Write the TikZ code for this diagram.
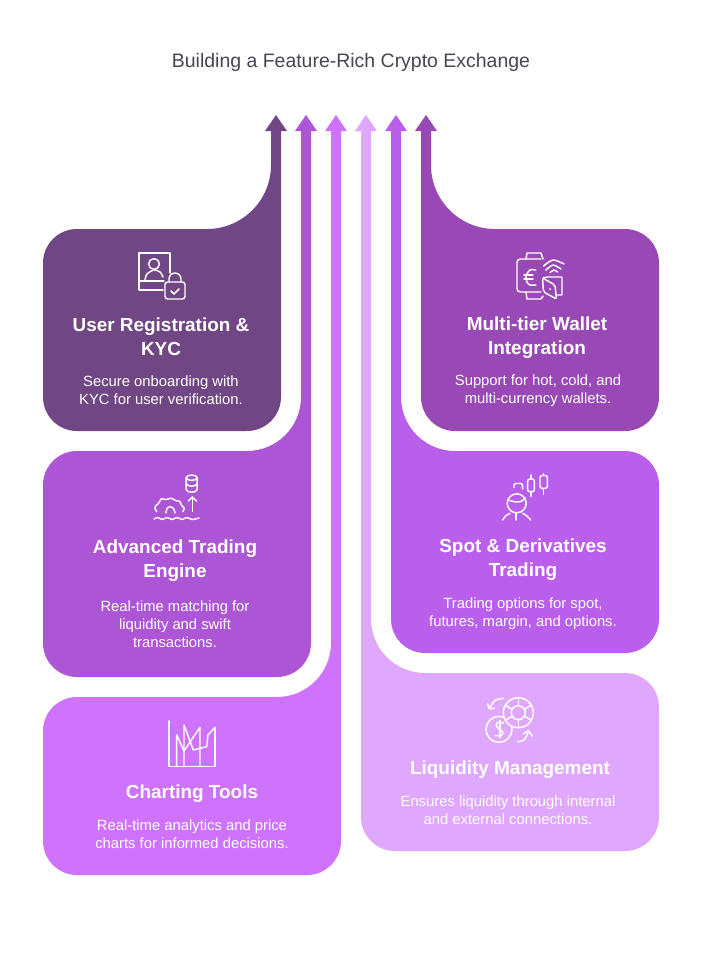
\documentclass[tikz,border=0pt]{standalone}
\usepackage{fontspec}
\setmainfont{Liberation Sans}
\definecolor{kycfill}{HTML}{714684}
\definecolor{enginefill}{HTML}{AC56D6}
\definecolor{chartfill}{HTML}{CF73FF}
\definecolor{walletfill}{HTML}{9849B6}
\definecolor{spotfill}{HTML}{BA5FEB}
\definecolor{liquidfill}{HTML}{E0A7FF}
\definecolor{titlecol}{HTML}{4A4452}
\tikzset{
  titletext/.style={text=titlecol, font=\fontsize{14.6}{17}\selectfont},
  cardhead/.style={text=white, align=center, font=\bfseries\fontsize{14.2}{18}\selectfont},
  cardtext/.style={text=white, align=center, font=\fontsize{11.1}{13.4}\selectfont},
  iconline/.style={draw=white, line width=1.1pt, line cap=round, line join=round}
}
\begin{document}
\begin{tikzpicture}[x=0.75pt, y=-0.75pt]
    \useasboundingbox (0, 0) rectangle (702, 954);

    \fill[kycfill] (43, 263) arc[start angle=180, end angle=270, radius=34] -- (207, 229) arc[start angle=90, end angle=0, radius=64] -- (271, 131) -- (265, 131) -- (276, 115) -- (287, 131) -- (281, 131) -- (281, 397) arc[start angle=0, end angle=90, radius=34] -- (77, 431) arc[start angle=90, end angle=180, radius=34] -- cycle;
    \fill[enginefill] (43, 485) arc[start angle=180, end angle=270, radius=34] -- (247, 451) arc[start angle=90, end angle=0, radius=54] -- (301, 131) -- (295, 131) -- (306, 115) -- (317, 131) -- (311, 131) -- (311, 643) arc[start angle=0, end angle=90, radius=34] -- (77, 677) arc[start angle=90, end angle=180, radius=34] -- cycle;
    \fill[chartfill] (43, 731) arc[start angle=180, end angle=270, radius=34] -- (277, 697) arc[start angle=90, end angle=0, radius=54] -- (331, 131) -- (325, 131) -- (336, 115) -- (347, 131) -- (341, 131) -- (341, 841) arc[start angle=0, end angle=90, radius=34] -- (77, 875) arc[start angle=90, end angle=180, radius=34] -- cycle;
    \fill[walletfill] (421, 131) -- (421, 397) arc[start angle=180, end angle=90, radius=34] -- (625, 431) arc[start angle=90, end angle=0, radius=34] -- (659, 263) arc[start angle=0, end angle=-90, radius=34] -- (495, 229) arc[start angle=90, end angle=180, radius=64] -- (431, 131) -- (437, 131) -- (426, 115) -- (415, 131) -- cycle;
    \fill[spotfill] (391, 131) -- (391, 619) arc[start angle=180, end angle=90, radius=34] -- (625, 653) arc[start angle=90, end angle=0, radius=34] -- (659, 485) arc[start angle=0, end angle=-90, radius=34] -- (455, 451) arc[start angle=90, end angle=180, radius=54] -- (401, 131) -- (407, 131) -- (396, 115) -- (385, 131) -- cycle;
    \fill[liquidfill] (361, 131) -- (361, 817) arc[start angle=180, end angle=90, radius=34] -- (625, 851) arc[start angle=90, end angle=0, radius=34] -- (659, 707) arc[start angle=0, end angle=-90, radius=34] -- (425, 673) arc[start angle=90, end angle=180, radius=54] -- (371, 131) -- (377, 131) -- (366, 115) -- (355, 131) -- cycle;

    \node[titletext] (title) at (351, 62.5) {Building a Feature-Rich Crypto Exchange};

    \node[cardhead] (kycHead) at (161, 337) {User Registration \&\\KYC};
    \node[cardtext] (kycText) at (161, 390) {Secure onboarding with\\KYC for user verification.};
    \node[cardhead] (engineHead) at (175, 561) {Advanced Trading\\Engine};
    \node[cardtext] (engineText) at (175, 624) {Real-time matching for\\liquidity and swift\\transactions.};
    \node[cardhead] (chartHead) at (192, 794) {Charting Tools};
    \node[cardtext] (chartText) at (192, 834) {Real-time analytics and price\\charts for informed decisions.};
    \node[cardhead] (walletHead) at (537, 338) {Multi-tier Wallet\\Integration};
    \node[cardtext] (walletText) at (538, 391) {Support for hot, cold, and\\multi-currency wallets.};
    \node[cardhead] (spotHead) at (523, 560) {Spot \& Derivatives\\Trading};
    \node[cardtext] (spotText) at (523, 614) {Trading options for spot,\\futures, margin, and options.};
    \node[cardhead] (liquidHead) at (510, 770) {Liquidity Management};
    \node[cardtext] (liquidText) at (508, 810) {Ensures liquidity through internal\\and external connections.};

    % user icon
    \draw[iconline] (170, 273) -- (170, 253) -- (139, 253) -- (139, 290) -- (163, 290);
    \draw[iconline] (139, 281) -- (164, 281);
    \draw[iconline] (154, 264) circle[radius=5.4];
    \draw[iconline] plot[smooth] coordinates {(145, 280) (147, 274) (154, 270) (160, 272) (163, 277)};
    \draw[iconline, rounded corners=2pt] (165, 282) rectangle (185, 299);
    \draw[iconline] (169, 282) -- (169, 279) arc[start angle=180, end angle=360, radius=6] -- (181, 282);
    \draw[iconline] (171, 291) -- (174, 294) -- (179, 289);

    % wallet icon
    \draw[iconline, rounded corners=2.5pt] (541, 259) -- (517, 259) -- (517, 292) -- (541, 292);
    \draw[iconline] (526, 259) -- (527, 253) -- (541, 253) -- (543, 259);
    \draw[iconline] (526, 292) -- (527, 299) -- (541, 299) -- (543, 296);
    \draw[iconline] plot[smooth] coordinates {(536, 270) (530, 270) (526, 276) (527, 282) (530, 285) (536, 285)};
    \draw[iconline] (524, 275) -- (533, 275);
    \draw[iconline] (524, 279) -- (533, 279);
    \draw[iconline] plot[smooth] coordinates {(543.5, 266) (553, 260) (564, 264)};
    \draw[iconline] plot[smooth] coordinates {(546, 270) (553, 265) (561, 269)};
    \draw[iconline] plot[smooth] coordinates {(550, 272.5) (554, 270) (557.5, 272)};
    \draw[iconline, rounded corners=1.5pt] (542.5, 278) -- (555, 285) -- (556.5, 299) -- (543.5, 292) -- cycle;
    \draw[iconline] (543, 278) -- (547, 277) -- (562, 277) -- (562, 295) -- (557, 295);
    \fill[white] (550, 289) circle[radius=1];

    % engine icon
    \draw[iconline] (191.7, 477.7) ellipse[x radius=5.5, y radius=2.7];
    \draw[iconline] (186.2, 477.7) -- (186.2, 489.5) arc[start angle=180, end angle=0, x radius=5.5, y radius=2.7] -- (197.2, 477.7);
    \draw[iconline] (186.2, 483.5) arc[start angle=180, end angle=0, x radius=5.5, y radius=2.7];
    \draw[iconline] (192.3, 511.5) -- (192.3, 497);
    \draw[iconline] (188.3, 501) -- (192.3, 497) -- (196.5, 501);
    \draw[iconline, rounded corners=1.5pt] (156.7, 511.7) -- (154, 506.7) -- (159.3, 503.3) -- (160.7, 498.3) -- (166.7, 500) -- (171.7, 497.3) -- (175, 501) -- (180.7, 501) -- (180.7, 505.7) -- (185, 507.7) -- (182.7, 511.7);
    \draw[iconline] plot[smooth] coordinates {(166, 513) (167, 508.5) (170, 506.7) (173.5, 508.5) (175, 513)};
    \draw[iconline] plot[smooth] coordinates {(154, 519) (158, 517.5) (162, 519.5) (167, 517.5) (172, 519.5) (177, 517.5) (182, 519.5) (187, 517.5) (192, 519.5) (199, 518)};

    % trader icon
    \draw[iconline, rounded corners=1.5pt] (527.7, 479) rectangle (534.3, 491.7);
    \draw[iconline] (531, 475) -- (531, 479);
    \draw[iconline] (531, 491.7) -- (531, 496.5);
    \draw[iconline, rounded corners=1.5pt] (540, 475.5) rectangle (547.3, 488.3);
    \draw[iconline] (543.7, 488.3) -- (543.7, 494.3);
    \draw[iconline] (543.7, 473.5) -- (543.7, 475.5);
    \draw[iconline] (514, 487.7) -- (514, 485) arc[start angle=180, end angle=270, radius=1.5] -- (521, 483.5) arc[start angle=270, end angle=360, radius=1.7] -- (522.7, 489);
    \draw[iconline] (516.7, 503.3) circle[radius=9.5];
    \draw[iconline] plot[smooth] coordinates {(508, 500) (516, 502) (522, 501) (525, 497.5)};
    \draw[iconline] (516, 513) -- (516, 520);
    \draw[iconline] plot[smooth] coordinates {(502.7, 520) (505.5, 516) (510, 513.3)};
    \draw[iconline] plot[smooth] coordinates {(522.7, 513.3) (527, 516) (530.7, 520)};

    % chart icon
    \draw[iconline] (169, 721) -- (169, 766.7) -- (215, 766.7) -- (215, 727.3);
    \draw[iconline] (176.7, 766.7) -- (176.7, 735) -- (184, 751) -- (200, 727.3) -- (200, 766.7);
    \draw[iconline] (184, 766.7) -- (184, 725) -- (193.3, 750) -- (206.7, 746.7) -- (208, 735) -- (215, 727.3);

    % liquidity icon
    \draw[iconline] (518.3, 712.7) circle[radius=15];
    \draw[iconline] (518.3, 712.7) circle[radius=7];
    \draw[iconline] (518.3, 712.7) +(30:7) -- +(30:15);
    \draw[iconline] (518.3, 712.7) +(90:7) -- +(90:15);
    \draw[iconline] (518.3, 712.7) +(150:7) -- +(150:15);
    \draw[iconline] (518.3, 712.7) +(210:7) -- +(210:15);
    \draw[iconline] (518.3, 712.7) +(270:7) -- +(270:15);
    \draw[iconline] (518.3, 712.7) +(330:7) -- +(330:15);
    \draw[iconline] (499, 729.3) +(-67:13) arc[start angle=-67, end angle=-374, radius=13];
    \draw[iconline] plot[smooth] coordinates {(503.5, 723) (499, 722) (496, 724.5) (499, 729) (503, 732) (501, 735.5) (495, 735.5)};
    \draw[iconline] (500, 720.5) -- (500, 738);
    \draw[iconline] plot[smooth] coordinates {(503.3, 698.3) (495, 700.5) (489.5, 708)};
    \draw[iconline] (487.7, 704) -- (489.3, 708.8) -- (494.3, 708.2);
    \draw[iconline] plot[smooth] coordinates {(517.7, 741.7) (524.5, 739.5) (528.3, 731.5)};
    \draw[iconline] (523.3, 733.8) -- (528.3, 730.7) -- (532.3, 736);
\end{tikzpicture}
\end{document}
